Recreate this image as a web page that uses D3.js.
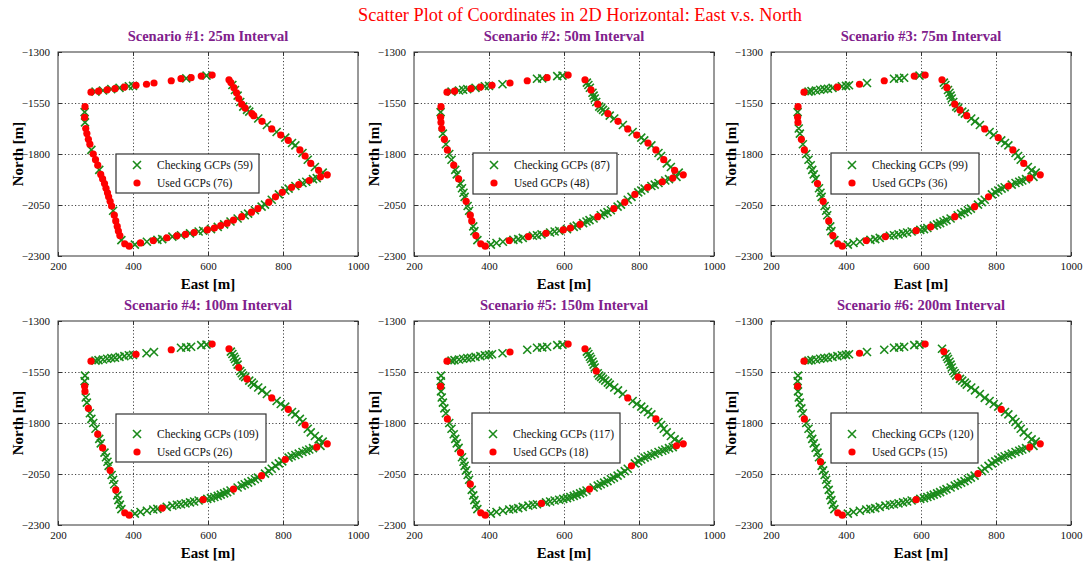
<!DOCTYPE html>
<html>
<head>
<meta charset="utf-8">
<script src="https://cdn.jsdelivr.net/npm/d3@7"></script>
<style>
body { margin: 0; background: #fff; }
text { font-family: "Liberation Serif", "Times New Roman", serif; }
</style>
</head>
<body>
<svg id="chart"></svg>
<script>
// GCP track, East / North [m]
var east = [
  288, 300, 308, 320, 331, 342, 352, 364, 377, 389, 400, 408, 436, 456, 502, 528, 542, 555, 582, 596, 611,
  656, 661, 665, 669, 672, 676, 679, 682, 686, 690, 694, 699, 704, 710, 717, 722, 734, 744, 757, 770,
  783, 794, 806, 814, 824, 833, 845, 852, 859, 866, 874, 885, 895, 906, 918,
  900, 890, 880, 870, 862, 852, 842, 833, 823, 815, 806, 798, 789, 780, 770, 762, 752, 743, 733, 725,
  716, 707, 698, 690, 679, 668, 660, 651, 643, 634, 626, 617, 608, 598, 587, 575, 563, 552, 540, 528,
  517, 505, 490, 478, 465, 454, 437, 420, 405, 390,
  378, 369, 365, 361, 358, 354, 350, 347, 343, 339, 335, 332, 328, 324, 319, 314, 310, 306, 300, 294,
  289, 285, 281, 277, 274, 272, 271, 271, 272
];
var north = [
  -1497, -1494, -1492, -1489, -1485, -1482, -1480, -1476, -1472, -1468, -1466, -1463, -1458, -1452, -1441, -1431, -1429, -1426, -1418, -1416, -1413,
  -1436, -1450, -1462, -1475, -1486, -1500, -1514, -1528, -1545, -1556, -1568, -1575, -1584, -1592, -1602, -1612, -1626, -1640, -1658, -1677,
  -1692, -1707, -1720, -1733, -1746, -1758, -1780, -1795, -1810, -1828, -1846, -1864, -1880, -1891, -1902,
  -1912, -1918, -1923, -1930, -1936, -1942, -1950, -1957, -1963, -1970, -1979, -1988, -1998, -2010, -2024, -2036, -2048, -2058, -2068, -2076,
  -2085, -2092, -2100, -2107, -2116, -2124, -2131, -2139, -2145, -2151, -2157, -2163, -2168, -2172, -2176, -2180, -2185, -2189, -2194, -2198,
  -2201, -2205, -2211, -2217, -2221, -2224, -2230, -2236, -2244, -2252,
  -2240, -2222, -2200, -2178, -2155, -2128, -2100, -2078, -2055, -2032, -2010, -1990, -1968, -1945, -1922, -1900, -1878, -1855, -1828, -1800,
  -1780, -1752, -1728, -1700, -1675, -1645, -1620, -1595, -1568
];

var scenarios = [
  'Scenario #1: 25m Interval', 'Scenario #2: 50m Interval', 'Scenario #3: 75m Interval',
  'Scenario #4: 100m Interval', 'Scenario #5: 150m Interval', 'Scenario #6: 200m Interval'
];

// indices of the points used as GCPs in each scenario, the rest are checking GCPs
var used1 = [0, 2, 4, 6, 8, 11, 12, 13, 14, 15, 17, 18, 20,
  21, 22, 24, 26, 28, 30, 32, 35, 36, 38, 40, 42, 44, 47, 49, 51, 53, 55,
  56, 59, 62, 64, 67, 69, 71, 74, 76, 79, 81, 83, 85, 87, 89, 92, 94, 96, 98, 101, 103, 105,
  106, 108, 109, 110, 111, 112, 114, 115, 116, 117, 118, 119, 120, 121, 123, 124, 125, 127, 128, 129, 130, 132, 134];
var used2 = [0, 2, 6, 8, 11, 13, 14, 17, 20, 21, 25, 30, 35, 38, 40, 42, 45, 47, 50, 53, 55, 57, 60, 64,
  68, 71, 74, 79, 84, 87, 89, 93, 97, 101, 105, 106, 108, 111, 112, 115, 120, 123, 126, 128, 130, 131, 132, 134];
var used3 = [0, 8, 12, 14, 18, 20, 21, 24, 30, 33, 36, 40, 43, 47, 51, 55, 57, 63, 69, 73, 79, 86, 90, 97,
  101, 105, 106, 108, 111, 115, 119, 126, 128, 131, 132, 134];
var used4 = [0, 11, 14, 20, 21, 28, 33, 40, 44, 49, 55, 57, 66, 73, 81, 90, 99, 105, 106, 111, 115, 120, 123, 128, 131, 132];
var used5 = [0, 13, 20, 21, 29, 40, 47, 55, 56, 69, 81, 94, 105, 106, 112, 119, 126, 132];
var used6 = [0, 12, 20, 22, 32, 44, 55, 57, 72, 90, 105, 106, 117, 126, 132];
var usedSets = [used1, used2, used3, used4, used5, used6];

var xTicks = [200, 400, 600, 800, 1000];
var yTicks = [-1300, -1550, -1800, -2050, -2300];

// layout
var lefts = [58, 414, 771], tops = [52, 321];
var pw = 300, ph = 204;
// legend: dx, dy, width, height, row1, row2 (relative to plot)
var legends = [
  [58, 102, 143, 39, 11, 29], [59, 101, 144, 41, 12, 30], [60, 101, 148, 41, 12, 30],
  [58, 93, 150, 48, 20, 38], [58, 92, 148, 50, 21, 39], [60, 92, 147, 50, 21, 39]
];
var green = '#1a8a1a', red = '#ff0000', purple = '#80208c';
var xMark = 'M-4,-4L4,4M-4,4L4,-4';

var svg = d3.select('#chart').attr('width', 1083).attr('height', 564);

svg.append('text')
  .attr('x', 580).attr('y', 21)
  .attr('text-anchor', 'middle')
  .attr('textLength', 444).attr('lengthAdjust', 'spacingAndGlyphs')
  .attr('fill', red).style('font-size', '19px')
  .text('Scatter Plot of Coordinates in 2D Horizontal: East v.s. North');

function drawPanel(k) {
  var left = lefts[k % 3], top = tops[Math.floor(k / 3)];
  var used = usedSets[k];
  var x = d3.scaleLinear().domain([200, 1000]).range([0, pw]);
  var y = d3.scaleLinear().domain([-2300, -1300]).range([ph, 0]);
  var g = svg.append('g').attr('transform', 'translate(' + left + ',' + top + ')');

  // dotted grid
  g.append('g').attr('class', 'grid').attr('transform', 'translate(0,' + ph + ')')
    .call(d3.axisBottom(x).tickValues(xTicks.slice(1, -1)).tickSize(-ph).tickFormat(''));
  g.append('g').attr('class', 'grid')
    .call(d3.axisLeft(y).tickValues(yTicks.slice(1, -1)).tickSize(-pw).tickFormat(''));
  g.selectAll('.grid .domain').remove();
  g.selectAll('.grid line')
    .attr('stroke', '#444').attr('stroke-width', 1).attr('stroke-dasharray', '1.2,2.2');

  // axes
  g.append('g').attr('transform', 'translate(0,' + ph + ')')
    .call(d3.axisBottom(x).tickValues(xTicks).tickSize(-4).tickPadding(6).tickFormat(d3.format('d')));
  g.append('g')
    .call(d3.axisLeft(y).tickValues(yTicks).tickSize(-4).tickPadding(8).tickFormat(d3.format('d')));
  g.append('g').attr('transform', 'translate(' + pw + ',0)')
    .call(d3.axisRight(y).tickValues(yTicks).tickSize(-4).tickFormat(''));
  g.append('g')
    .call(d3.axisTop(x).tickValues(xTicks).tickSize(-4).tickFormat(''));
  g.selectAll('.domain').remove();
  g.selectAll('.tick line').filter(function() { return this.parentNode.parentNode.getAttribute('class') !== 'grid'; })
    .attr('stroke', '#333');
  g.selectAll('.tick text')
    .attr('fill', '#111').style('font-size', '11px')
    .style('font-family', '"Liberation Serif", serif');

  g.append('rect')
    .attr('width', pw).attr('height', ph)
    .attr('fill', 'none').attr('stroke', '#333').attr('stroke-width', 1);

  // points: checking GCPs first, used GCPs on top
  var idx = d3.range(east.length);
  var checking = idx.filter(function(i) { return used.indexOf(i) < 0; });

  g.selectAll('path.chk').data(checking).enter()
    .append('path').attr('class', 'chk')
    .attr('d', xMark)
    .attr('transform', function(i) { return 'translate(' + x(east[i]) + ',' + y(north[i]) + ')'; })
    .attr('stroke', green).attr('stroke-width', 1.6).attr('fill', 'none');

  g.selectAll('circle.used').data(used).enter()
    .append('circle').attr('class', 'used')
    .attr('cx', function(i) { return x(east[i]); })
    .attr('cy', function(i) { return y(north[i]); })
    .attr('r', 3.6)
    .attr('fill', red);

  // titles and labels
  g.append('text')
    .attr('x', pw / 2).attr('y', -11)
    .attr('text-anchor', 'middle')
    .attr('fill', purple).style('font-size', '14.5px').style('font-weight', 'bold')
    .text(scenarios[k]);
  g.append('text')
    .attr('transform', 'translate(-35,' + (ph / 2) + ') rotate(-90)')
    .attr('text-anchor', 'middle')
    .attr('fill', '#000').style('font-size', '15px').style('font-weight', 'bold')
    .text('North [m]');
  g.append('text')
    .attr('x', pw / 2).attr('y', ph + 33)
    .attr('text-anchor', 'middle')
    .attr('fill', '#000').style('font-size', '15px').style('font-weight', 'bold')
    .text('East [m]');

  // legend
  var L = legends[k];
  var lg = g.append('g').attr('transform', 'translate(' + L[0] + ',' + L[1] + ')');
  lg.append('rect')
    .attr('width', L[2]).attr('height', L[3])
    .attr('fill', '#fff').attr('stroke', '#333').attr('stroke-width', 1.2);
  lg.append('path')
    .attr('d', xMark).attr('transform', 'translate(21,' + L[4] + ')')
    .attr('stroke', green).attr('stroke-width', 1.6).attr('fill', 'none');
  lg.append('circle')
    .attr('cx', 21).attr('cy', L[5]).attr('r', 3.6).attr('fill', red);
  lg.append('text')
    .attr('x', 41).attr('y', L[4] + 4)
    .style('font-size', '11.5px').attr('fill', '#111')
    .text('Checking GCPs (' + checking.length + ')');
  lg.append('text')
    .attr('x', 41).attr('y', L[5] + 4)
    .style('font-size', '11.5px').attr('fill', '#111')
    .text('Used GCPs (' + used.length + ')');
}

for (var k = 0; k < 6; k++) {
  drawPanel(k);
}
</script>
</body>
</html>
